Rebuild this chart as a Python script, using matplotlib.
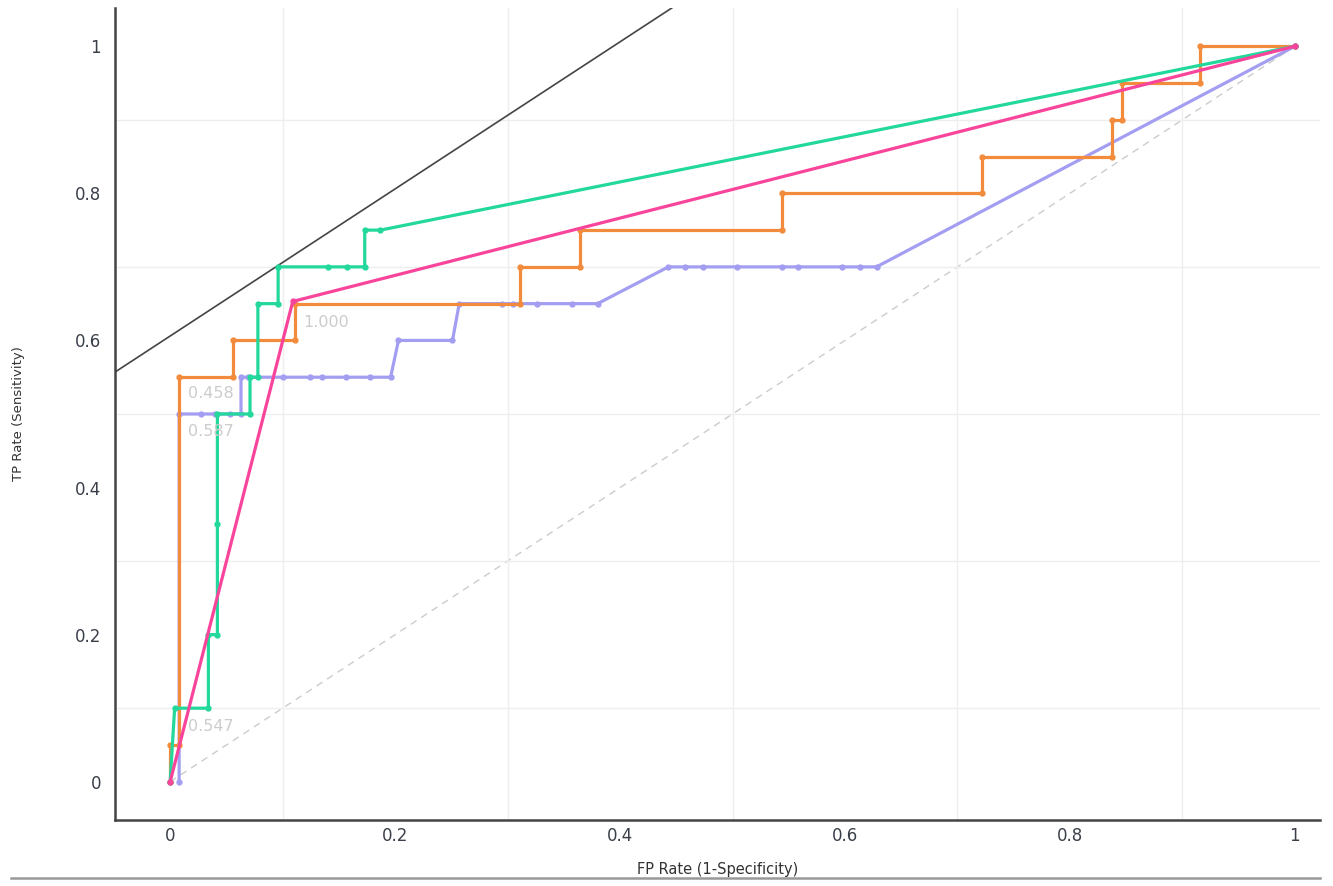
import matplotlib
matplotlib.use("Agg")
import matplotlib.pyplot as plt
from matplotlib.lines import Line2D

# ROC curves (FP rate, TP rate)
orange_fpr = [0.0, 0.0, 0.008, 0.008, 0.056, 0.056, 0.111, 0.111, 0.311, 0.311,
              0.364, 0.364, 0.544, 0.544, 0.722, 0.722, 0.837, 0.837, 0.846, 0.846,
              0.916, 0.916, 1.0]
orange_tpr = [0.0, 0.05, 0.05, 0.55, 0.55, 0.60, 0.60, 0.65, 0.65, 0.70,
              0.70, 0.75, 0.75, 0.80, 0.80, 0.85, 0.85, 0.90, 0.90, 0.95,
              0.95, 1.0, 1.0]

green_fpr = [0.0, 0.004, 0.034, 0.034, 0.042, 0.042, 0.042, 0.071, 0.071, 0.078,
             0.078, 0.096, 0.096, 0.14, 0.157, 0.173, 0.173, 0.187, 1.0]
green_tpr = [0.0, 0.10, 0.10, 0.20, 0.20, 0.35, 0.50, 0.50, 0.55, 0.55,
             0.65, 0.65, 0.70, 0.70, 0.70, 0.70, 0.75, 0.75, 1.0]

pink_fpr = [0.0, 0.109, 1.0]
pink_tpr = [0.0, 0.653, 1.0]

purple_fpr = [0.008, 0.008, 0.027, 0.040, 0.053, 0.063, 0.063, 0.069, 0.100, 0.124,
              0.135, 0.156, 0.178, 0.196, 0.203, 0.251, 0.257, 0.295, 0.305, 0.326,
              0.357, 0.380, 0.443, 0.458, 0.474, 0.504, 0.544, 0.558, 0.597, 0.613,
              0.628, 1.0]
purple_tpr = [0.0, 0.50, 0.50, 0.50, 0.50, 0.50, 0.55, 0.55, 0.55, 0.55,
              0.55, 0.55, 0.55, 0.55, 0.60, 0.60, 0.65, 0.65, 0.65, 0.65,
              0.65, 0.65, 0.70, 0.70, 0.70, 0.70, 0.70, 0.70, 0.70, 0.70,
              0.70, 1.0]

# threshold labels
label_text = ["0.458", "0.587", "0.547", "1.000"]
label_x = [0.016, 0.016, 0.016, 0.118]
label_y = [0.528, 0.476, 0.075, 0.625]

# iso-performance line y = x + b
iso_intercept = 0.606

ticks = [0, 0.2, 0.4, 0.6, 0.8, 1]
tick_labels = ["0", "0.2", "0.4", "0.6", "0.8", "1"]

fig = plt.figure(figsize=(13.33, 8.86), dpi=100)
ax = fig.add_axes([0.0863, 0.0745, 0.9037, 0.9165])
ax.set_xlim(-0.049, 1.022)
ax.set_ylim(-0.052, 1.052)

# grid
ax.set_xticks([i / 10 for i in range(11)], minor=True)
ax.set_yticks([i / 10 for i in range(11)], minor=True)
ax.grid(which="minor", color="#eeeeee", lw=1)
ax.set_xticks(ticks)
ax.set_yticks(ticks)
ax.set_xticklabels(tick_labels)
ax.set_yticklabels(tick_labels)
ax.tick_params(which="both", length=0)
ax.tick_params(labelsize=12, colors="#3a3f4a", pad=10)
ax.tick_params(axis="x", pad=5)

for s in ["top", "right"]:
    ax.spines[s].set_visible(False)
for s in ["left", "bottom"]:
    ax.spines[s].set_color("#444444")
    ax.spines[s].set_linewidth(1.8)

# chance diagonal and iso-performance line
ax.plot([0, 1], [0, 1], color="#cccccc", lw=1, ls=(0, (5, 4)), zorder=1)
ax.axline((0, iso_intercept), slope=1, color="#444444", lw=1.2, zorder=2)

kw = dict(lw=2.3, marker="o", ms=3.5, zorder=3)
ax.plot(purple_fpr, purple_tpr, color="#a49ef2", **kw)
ax.plot(orange_fpr, orange_tpr, color="#f28c3c", **kw)
ax.plot(green_fpr, green_tpr, color="#22d89c", **kw)
ax.plot(pink_fpr, pink_tpr, color="#f8459b", **kw)

for t, x, y in zip(label_text, label_x, label_y):
    ax.text(x, y, t, color="#cccccc", fontsize=11.5, va="center", ha="left", zorder=4)

ax.set_xlabel("FP Rate (1-Specificity)", fontsize=10.5, color="#333333", labelpad=12)
ax.set_ylabel("TP Rate (Sensitivity)", fontsize=9.5, color="#333333", labelpad=36)

# separator line under the chart
fig.add_artist(Line2D([0.008, 0.99], [0.009, 0.009], color="#999999", lw=1.8,
                      transform=fig.transFigure))

fig.savefig("out.png", dpi=100)
